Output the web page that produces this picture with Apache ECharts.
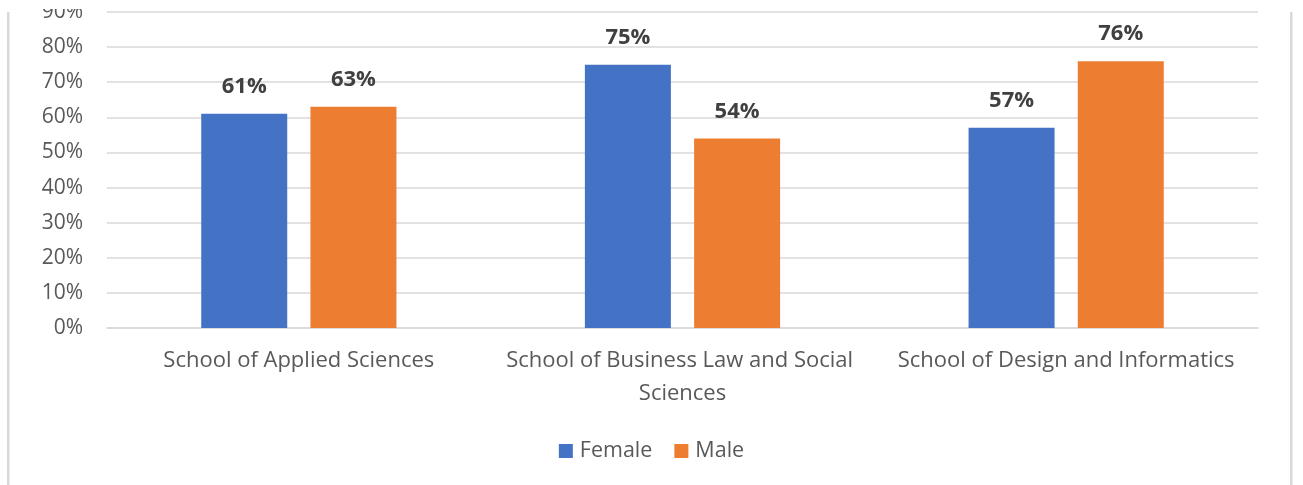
<!DOCTYPE html>
<html>
<head>
<meta charset="utf-8">
<script src="https://cdn.jsdelivr.net/npm/echarts@6/dist/echarts.min.js"></script>
<style>
  html, body { margin: 0; padding: 0; background: #fff; }
  #chart { width: 1303px; height: 485px; }
</style>
</head>
<body>
<div id="chart"></div>
<script>
// Share of students by school, split by gender (percent)
const schools = [
  'School of Applied Sciences',
  'School of Business Law and Social Sciences',
  'School of Design and Informatics'
];
const femaleValues = [61, 75, 57];
const maleValues = [63, 54, 76];
const seriesNames = ['Female', 'Male'];

const FONT = '"Open Sans", "Noto Sans", sans-serif';
const TEXT_GRAY = '#595959';

const valueLabel = {
  show: true,
  position: 'top',
  distance: 16,
  formatter: p => p.value + '%',
  fontFamily: FONT,
  fontSize: 22,
  fontWeight: 'bold',
  color: '#404040'
};

const chart = echarts.init(document.getElementById('chart'), null, { renderer: 'canvas' });
chart.setOption({
  animation: false,
  backgroundColor: '#ffffff',
  color: ['#4472C4', '#ED7D31'],
  grid: { left: 107, right: 45, top: 12, bottom: 157, containLabel: false },
  legend: {
    data: seriesNames,
    bottom: 18,
    left: 'center',
    itemWidth: 14,
    itemHeight: 14,
    itemGap: 22,
    icon: 'rect',
    textStyle: { fontFamily: FONT, fontSize: 21.5, color: TEXT_GRAY, padding: [0, 0, 0, 2] }
  },
  xAxis: {
    type: 'category',
    data: schools,
    axisTick: { show: false },
    axisLine: { show: true, lineStyle: { color: '#d9d9d9', width: 1.5 } },
    axisLabel: {
      interval: 0,
      margin: 16,
      width: 384,
      overflow: 'break',
      lineHeight: 33,
      fontFamily: FONT,
      fontSize: 22,
      color: TEXT_GRAY
    }
  },
  yAxis: {
    type: 'value',
    min: 0,
    max: 90,
    interval: 10,
    axisLine: { show: false },
    axisTick: { show: false },
    splitLine: { lineStyle: { color: '#d9d9d9', width: 1.5 } },
    axisLabel: {
      margin: 24,
      formatter: '{value}%',
      fontFamily: FONT,
      fontSize: 21,
      color: TEXT_GRAY
    }
  },
  series: [
    { name: seriesNames[0], type: 'bar', data: femaleValues, barWidth: 86, barGap: '27%', label: valueLabel },
    { name: seriesNames[1], type: 'bar', data: maleValues, barWidth: 86, barGap: '27%', label: valueLabel }
  ],
  graphic: [
    // chart-area frame edges
    { type: 'rect', left: 7, top: 12, shape: { width: 2.5, height: 473 }, style: { fill: '#d9d9d9' }, z: 100 },
    { type: 'rect', left: 1290, top: 12, shape: { width: 2.5, height: 473 }, style: { fill: '#d9d9d9' }, z: 100 },
    // top edge trims the partially visible top tick label
    { type: 'rect', left: 0, top: 0, shape: { width: 1303, height: 9 }, style: { fill: '#ffffff' }, z: 100 }
  ]
});
</script>
</body>
</html>
